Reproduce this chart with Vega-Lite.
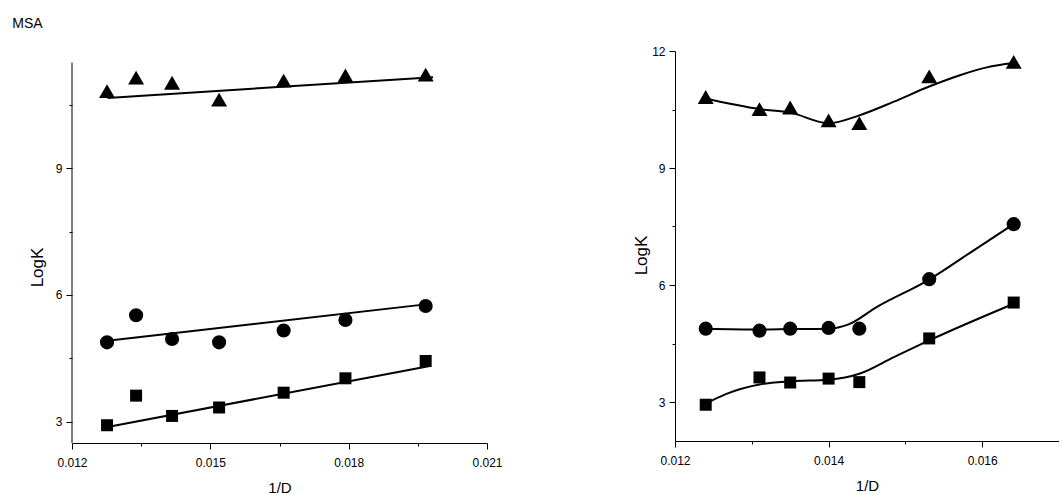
{
  "$schema": "https://vega.github.io/schema/vega-lite/v6.json",
  "title": {"text": "MSA", "anchor": "start", "fontSize": 14, "font": "Liberation Sans", "fontWeight": "normal", "color": "black", "dx": -16, "offset": 14},
  "padding": {"left": 12, "top": 17, "right": 0, "bottom": 0},
  "background": "white",
  "config": {
    "view": {"stroke": null},
    "font": "Liberation Sans",
    "axis": {
      "domainColor": "black", "tickColor": "black", "labelColor": "black", "titleColor": "black",
      "labelFont": "Liberation Sans", "titleFont": "Liberation Sans", "labelFontSize": 12, "titleFontSize": 15,
      "titleFontWeight": "normal", "grid": false, "domainWidth": 1, "tickWidth": 1, "labelPadding": 4,
      "labelFlush": false, "labelOverlap": false
    }
  },
  "bounds": "flush",
  "spacing": 188,
  "datasets": {
    "left_pts": [
      {"x": 0.01276, "y": 10.82, "series": "K3"}, {"x": 0.01339, "y": 11.14, "series": "K3"},
      {"x": 0.01417, "y": 11.02, "series": "K3"}, {"x": 0.01519, "y": 10.62, "series": "K3"},
      {"x": 0.01659, "y": 11.07, "series": "K3"}, {"x": 0.01793, "y": 11.19, "series": "K3"},
      {"x": 0.01967, "y": 11.21, "series": "K3"},
      {"x": 0.01276, "y": 4.88, "series": "K2"}, {"x": 0.01339, "y": 5.52, "series": "K2"},
      {"x": 0.01417, "y": 4.96, "series": "K2"}, {"x": 0.01519, "y": 4.88, "series": "K2"},
      {"x": 0.01659, "y": 5.16, "series": "K2"}, {"x": 0.01793, "y": 5.41, "series": "K2"},
      {"x": 0.01967, "y": 5.74, "series": "K2"},
      {"x": 0.01276, "y": 2.92, "series": "K1"}, {"x": 0.01339, "y": 3.62, "series": "K1"},
      {"x": 0.01417, "y": 3.14, "series": "K1"}, {"x": 0.01519, "y": 3.34, "series": "K1"},
      {"x": 0.01659, "y": 3.69, "series": "K1"}, {"x": 0.01793, "y": 4.03, "series": "K1"},
      {"x": 0.01967, "y": 4.44, "series": "K1"}
    ],
    "left_fit": [
      {"x": 0.01277, "y": 10.66, "series": "K3"}, {"x": 0.01983, "y": 11.15, "series": "K3"},
      {"x": 0.01277, "y": 4.92, "series": "K2"}, {"x": 0.01976, "y": 5.79, "series": "K2"},
      {"x": 0.01277, "y": 2.88, "series": "K1"}, {"x": 0.01976, "y": 4.32, "series": "K1"}
    ],
    "right_pts": [
      {"x": 0.0124, "y": 10.82, "series": "K3"}, {"x": 0.0131, "y": 10.51, "series": "K3"},
      {"x": 0.0135, "y": 10.55, "series": "K3"}, {"x": 0.0140, "y": 10.22, "series": "K3"},
      {"x": 0.0144, "y": 10.15, "series": "K3"}, {"x": 0.01531, "y": 11.35, "series": "K3"},
      {"x": 0.01641, "y": 11.72, "series": "K3"},
      {"x": 0.0124, "y": 4.88, "series": "K2"}, {"x": 0.0131, "y": 4.83, "series": "K2"},
      {"x": 0.0135, "y": 4.88, "series": "K2"}, {"x": 0.0140, "y": 4.90, "series": "K2"},
      {"x": 0.0144, "y": 4.88, "series": "K2"}, {"x": 0.01531, "y": 6.15, "series": "K2"},
      {"x": 0.01641, "y": 7.56, "series": "K2"},
      {"x": 0.0124, "y": 2.93, "series": "K1"}, {"x": 0.0131, "y": 3.63, "series": "K1"},
      {"x": 0.0135, "y": 3.50, "series": "K1"}, {"x": 0.0140, "y": 3.60, "series": "K1"},
      {"x": 0.0144, "y": 3.51, "series": "K1"}, {"x": 0.01531, "y": 4.63, "series": "K1"},
      {"x": 0.01641, "y": 5.55, "series": "K1"}
    ],
    "right_fit": [
      {"x": 0.0124, "y": 10.78, "series": "K3"}, {"x": 0.0131, "y": 10.51, "series": "K3"},
      {"x": 0.0135, "y": 10.42, "series": "K3"}, {"x": 0.0140, "y": 10.15, "series": "K3"},
      {"x": 0.0144, "y": 10.35, "series": "K3"}, {"x": 0.01485, "y": 10.70, "series": "K3"},
      {"x": 0.01531, "y": 11.09, "series": "K3"}, {"x": 0.01571, "y": 11.38, "series": "K3"},
      {"x": 0.01606, "y": 11.58, "series": "K3"}, {"x": 0.01641, "y": 11.69, "series": "K3"},
      {"x": 0.0124, "y": 4.88, "series": "K2"}, {"x": 0.0131, "y": 4.86, "series": "K2"},
      {"x": 0.0135, "y": 4.87, "series": "K2"}, {"x": 0.0140, "y": 4.88, "series": "K2"},
      {"x": 0.01426, "y": 4.99, "series": "K2"}, {"x": 0.01463, "y": 5.44, "series": "K2"},
      {"x": 0.01531, "y": 6.14, "series": "K2"}, {"x": 0.01589, "y": 6.89, "series": "K2"},
      {"x": 0.01641, "y": 7.56, "series": "K2"},
      {"x": 0.0124, "y": 2.96, "series": "K1"}, {"x": 0.01267, "y": 3.21, "series": "K1"},
      {"x": 0.0131, "y": 3.45, "series": "K1"}, {"x": 0.0135, "y": 3.53, "series": "K1"},
      {"x": 0.0140, "y": 3.57, "series": "K1"}, {"x": 0.01441, "y": 3.73, "series": "K1"},
      {"x": 0.01485, "y": 4.15, "series": "K1"}, {"x": 0.01531, "y": 4.58, "series": "K1"},
      {"x": 0.01641, "y": 5.52, "series": "K1"}
    ]
  },
  "hconcat": [
    {
      "width": 415,
      "height": 392,
      "layer": [
        {
          "data": {"name": "left_fit"},
          "mark": {"type": "line", "color": "black", "strokeWidth": 2},
          "encoding": {
            "x": {"field": "x", "type": "quantitative",
              "scale": {"domain": [0.012, 0.021], "nice": false, "zero": false},
              "axis": {"title": "1/D", "values": [0.012, 0.0135, 0.015, 0.0165, 0.018, 0.0195, 0.021], "format": ".3f",
                "labelExpr": "round(datum.value*2000) % 6 == 0 ? datum.label : ''",
                "tickSize": {"condition": {"test": "round(datum.value*2000) % 6 == 0", "value": 6}, "value": 3},
                "labelPadding": 8, "titlePadding": 12}},
            "y": {"field": "y", "type": "quantitative",
              "scale": {"domain": [2.5, 11.77], "nice": false, "zero": false},
              "axis": {"title": "LogK", "values": [3, 4.5, 6, 7.5, 9, 10.5], "domain": false,
                "labelExpr": "datum.value % 3 == 0 ? datum.label : ''",
                "tickSize": {"condition": {"test": "datum.value % 3 == 0", "value": 6}, "value": 3},
                "titlePadding": 9, "titleFontSize": 17, "titleY": 216}},
            "detail": {"field": "series", "type": "nominal"}
          }
        },
        {
          "data": {"values": [{}]},
          "mark": {"type": "rule", "color": "black", "strokeWidth": 1},
          "encoding": {
            "x": {"datum": 0.012, "type": "quantitative"},
            "y": {"datum": 2.5, "type": "quantitative"},
            "y2": {"datum": 11.5}
          }
        },
        {
          "data": {"name": "left_pts"},
          "mark": {"type": "point", "filled": true, "color": "black", "opacity": 1},
          "encoding": {
            "x": {"field": "x", "type": "quantitative"},
            "y": {"field": "y", "type": "quantitative"},
            "shape": {"field": "series", "type": "nominal",
              "scale": {"domain": ["K3", "K2", "K1"], "range": ["triangle-up", "circle", "square"]}, "legend": null},
            "size": {"field": "series", "type": "ordinal",
              "scale": {"domain": ["K3", "K2", "K1"], "range": [256, 144, 144]}, "legend": null}
          }
        }
      ]
    },
    {
      "width": 384,
      "height": 390,
      "layer": [
        {
          "data": {"name": "right_fit"},
          "mark": {"type": "line", "color": "black", "strokeWidth": 2, "interpolate": "monotone"},
          "encoding": {
            "x": {"field": "x", "type": "quantitative",
              "scale": {"domain": [0.012, 0.017], "nice": false, "zero": false},
              "axis": {"title": "1/D", "values": [0.012, 0.013, 0.014, 0.015, 0.016], "format": ".3f",
                "labelExpr": "round(datum.value*1000) % 2 == 0 ? datum.label : ''",
                "tickSize": {"condition": {"test": "round(datum.value*1000) % 2 == 0", "value": 6}, "value": 3},
                "labelPadding": 8, "titlePadding": 12}},
            "y": {"field": "y", "type": "quantitative",
              "scale": {"domain": [2, 12], "nice": false, "zero": false},
              "axis": {"title": "LogK", "values": [3, 4.5, 6, 7.5, 9, 10.5, 12],
                "labelExpr": "datum.value % 3 == 0 ? datum.label : ''",
                "tickSize": {"condition": {"test": "datum.value % 3 == 0", "value": 6}, "value": 3},
                "titlePadding": 1, "titleFontSize": 17, "titleY": 204}},
            "detail": {"field": "series", "type": "nominal"}
          }
        },
        {
          "data": {"name": "right_pts"},
          "mark": {"type": "point", "filled": true, "color": "black", "opacity": 1},
          "encoding": {
            "x": {"field": "x", "type": "quantitative"},
            "y": {"field": "y", "type": "quantitative"},
            "shape": {"field": "series", "type": "nominal",
              "scale": {"domain": ["K3", "K2", "K1"], "range": ["triangle-up", "circle", "square"]}, "legend": null},
            "size": {"field": "series", "type": "ordinal",
              "scale": {"domain": ["K3", "K2", "K1"], "range": [150, 110, 72]}, "legend": null}
          }
        }
      ]
    }
  ]
}
